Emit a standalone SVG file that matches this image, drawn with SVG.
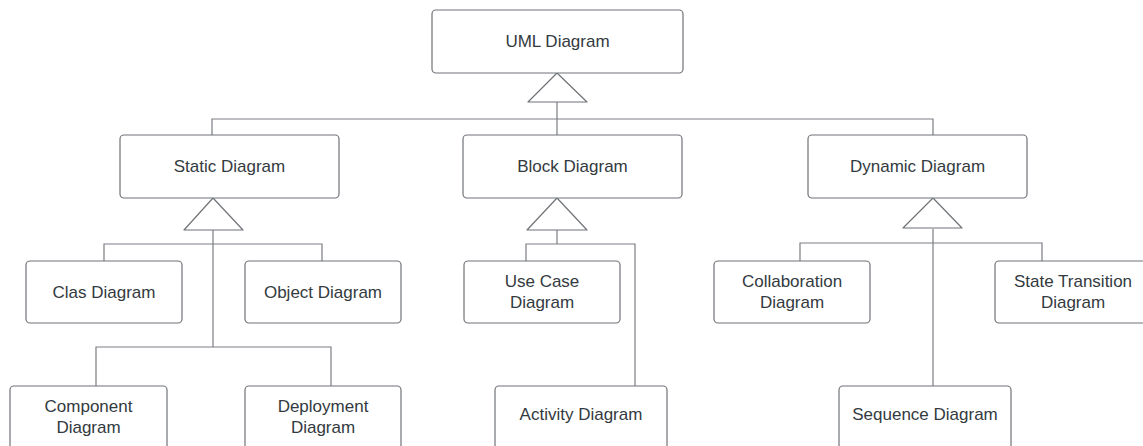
<svg xmlns="http://www.w3.org/2000/svg" width="1143" height="446" viewBox="0 0 1143 446">
<style>
.box{fill:#ffffff;stroke:#6f7378;stroke-width:1.2}
.t{font-family:"Liberation Sans",Arial,sans-serif;font-size:17px;fill:#333a40;text-anchor:middle}
.c{fill:none;stroke:#7a7e83;stroke-width:1.2}
.tri{fill:#ffffff;stroke:#6f7378;stroke-width:1.2;stroke-linejoin:round}
</style>
<rect width="1143" height="446" fill="#ffffff"/>
<g id="connectors">
<polyline class="c" points="557,102 557,135"/>
<polyline class="c" points="212,135 212,119 933,119 933,135"/>
<polygon class="tri" points="557,73 528,102 587,102"/>
<polyline class="c" points="213,230 213,347"/>
<polyline class="c" points="104,261 104,244 322,244 322,261"/>
<polyline class="c" points="96,386 96,347 331,347 331,386"/>
<polygon class="tri" points="213,198 184,230 243,230"/>
<polyline class="c" points="557,230 557,244"/>
<polyline class="c" points="526,261 526,244 635,244 635,386"/>
<polygon class="tri" points="557,198 527,230 587,230"/>
<polyline class="c" points="933,229 933,386"/>
<polyline class="c" points="800,261 800,243 1042,243 1042,261"/>
<polygon class="tri" points="933,198 903,228 962,228"/>
</g>
<g id="uml"><rect class="box" x="432" y="10" width="251" height="63" rx="4"/><text class="t" x="557.5" y="47">UML Diagram</text></g>
<g id="static"><rect class="box" x="120" y="135" width="219" height="63" rx="4"/><text class="t" x="229.5" y="172">Static Diagram</text></g>
<g id="block"><rect class="box" x="463" y="135" width="219" height="63" rx="4"/><text class="t" x="572.5" y="172">Block Diagram</text></g>
<g id="dynamic"><rect class="box" x="808" y="135" width="219" height="63" rx="4"/><text class="t" x="917.5" y="172">Dynamic Diagram</text></g>
<g id="clas"><rect class="box" x="26" y="261" width="156" height="62" rx="4"/><text class="t" x="104" y="298">Clas Diagram</text></g>
<g id="object"><rect class="box" x="245" y="261" width="156" height="62" rx="4"/><text class="t" x="323" y="298">Object Diagram</text></g>
<g id="usecase"><rect class="box" x="464" y="261" width="156" height="62" rx="4"/><text class="t" x="542" y="287">Use Case</text><text class="t" x="542" y="308">Diagram</text></g>
<g id="collaboration"><rect class="box" x="714" y="261" width="156" height="62" rx="4"/><text class="t" x="792" y="287">Collaboration</text><text class="t" x="792" y="308">Diagram</text></g>
<g id="statetransition"><rect class="box" x="995" y="261" width="156" height="62" rx="4"/><text class="t" x="1073" y="287">State Transition</text><text class="t" x="1073" y="308">Diagram</text></g>
<g id="component"><rect class="box" x="10" y="386" width="157" height="64" rx="4"/><text class="t" x="88.5" y="412">Component</text><text class="t" x="88.5" y="433">Diagram</text></g>
<g id="deployment"><rect class="box" x="245" y="386" width="156" height="64" rx="4"/><text class="t" x="323" y="412">Deployment</text><text class="t" x="323" y="433">Diagram</text></g>
<g id="activity"><rect class="box" x="495" y="386" width="172" height="64" rx="4"/><text class="t" x="581" y="420">Activity Diagram</text></g>
<g id="sequence"><rect class="box" x="839" y="386" width="172" height="64" rx="4"/><text class="t" x="925" y="420">Sequence Diagram</text></g>
</svg>
